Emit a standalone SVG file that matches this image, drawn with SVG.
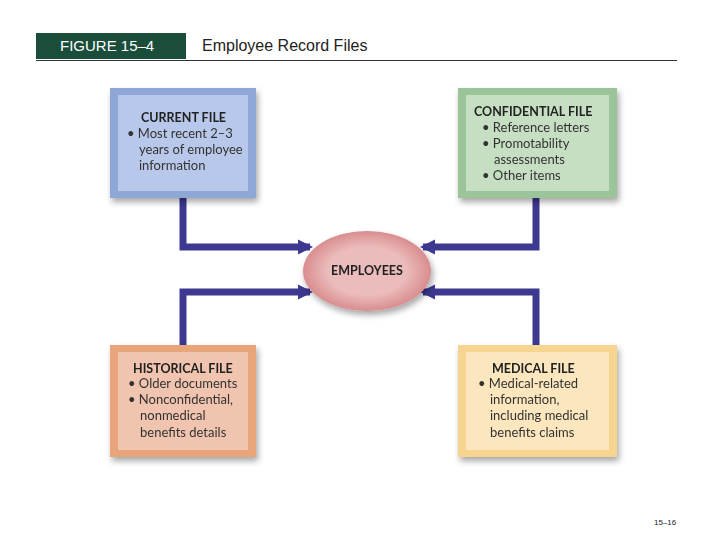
<svg xmlns="http://www.w3.org/2000/svg" width="720" height="540" viewBox="0 0 720 540">
<defs>
<style>
.t{font-family:Lato,"Liberation Sans",sans-serif;font-size:13px;fill:#333}
.h{font-family:Lato,"Liberation Sans",sans-serif;font-size:12.5px;font-weight:bold;fill:#222}
.c{fill:none;stroke:#3d3890;stroke-width:7}
</style>
<marker id="a" viewBox="0 0 10 10" refX="8" refY="5" markerWidth="2.2" markerHeight="2.2" orient="auto" markerUnits="strokeWidth"><path d="M0,0L10,5L0,10z" fill="#3d3890"/></marker>
<filter id="s" x="-10%" y="-10%" width="125%" height="130%"><feDropShadow dx="2" dy="4" stdDeviation="3" flood-opacity="0.35"/></filter>
<radialGradient id="e"><stop offset="0.6" stop-color="#ecbcbc"/><stop offset="1" stop-color="#d98d8f"/></radialGradient>
</defs>
<rect width="720" height="540" fill="#fff"/>
<rect x="36" y="33" width="150" height="26" fill="#1b4d3b"/>
<text x="60" y="51" font-family="Liberation Sans,sans-serif" font-size="15" fill="#fff">FIGURE 15–4</text>
<text x="202" y="51" font-family="Liberation Sans,sans-serif" font-size="16" fill="#222">Employee Record Files</text>
<line x1="36" y1="60.5" x2="677" y2="60.5" stroke="#333" stroke-width="1"/>
<g id="connectors">
<path class="c" d="M183,198V247H310" marker-end="url(#a)"/>
<path class="c" d="M536,198V247H423" marker-end="url(#a)"/>
<path class="c" d="M183,345V292H310" marker-end="url(#a)"/>
<path class="c" d="M536,345V292H423" marker-end="url(#a)"/>
</g>
<g id="current" filter="url(#s)">
<rect x="110" y="88" width="146" height="110" fill="#8fa7d6"/>
<rect x="118" y="95" width="130" height="96" fill="#b8c8ea"/>
<text class="h" x="141" y="122">CURRENT FILE</text>
<text class="t" x="127" y="138">• Most recent 2–3</text>
<text class="t" x="139" y="154">years of employee</text>
<text class="t" x="139" y="170">information</text>
</g>
<g id="confidential" filter="url(#s)">
<rect x="458" y="88" width="159" height="110" fill="#9bc49a"/>
<rect x="466" y="95" width="143" height="96" fill="#c6dfc2"/>
<text class="h" x="474" y="116">CONFIDENTIAL FILE</text>
<text class="t" x="482" y="132">• Reference letters</text>
<text class="t" x="482" y="148">• Promotability</text>
<text class="t" x="494" y="164">assessments</text>
<text class="t" x="482" y="180">• Other items</text>
</g>
<g id="historical" filter="url(#s)">
<rect x="110" y="345" width="146" height="112" fill="#e9a57a"/>
<rect x="118" y="352" width="130" height="98" fill="#f0c4ae"/>
<text class="h" x="133" y="373">HISTORICAL FILE</text>
<text class="t" x="128" y="388">• Older documents</text>
<text class="t" x="128" y="404">• Nonconfidential,</text>
<text class="t" x="140" y="420">nonmedical</text>
<text class="t" x="140" y="437">benefits details</text>
</g>
<g id="medical" filter="url(#s)">
<rect x="458" y="345" width="159" height="112" fill="#f6d590"/>
<rect x="466" y="352" width="143" height="98" fill="#fbe6bd"/>
<text class="h" x="492" y="373">MEDICAL FILE</text>
<text class="t" x="478" y="388">• Medical-related</text>
<text class="t" x="490" y="404">information,</text>
<text class="t" x="490" y="420">including medical</text>
<text class="t" x="490" y="437">benefits claims</text>
</g>
<g id="employees" filter="url(#s)">
<ellipse cx="367" cy="271" rx="64" ry="40" fill="url(#e)"/>
<text class="h" x="367" y="275" text-anchor="middle" font-size="12">EMPLOYEES</text>
</g>
<text x="654" y="525" font-family="Liberation Sans,sans-serif" font-size="8" fill="#222">15–16</text>
</svg>
